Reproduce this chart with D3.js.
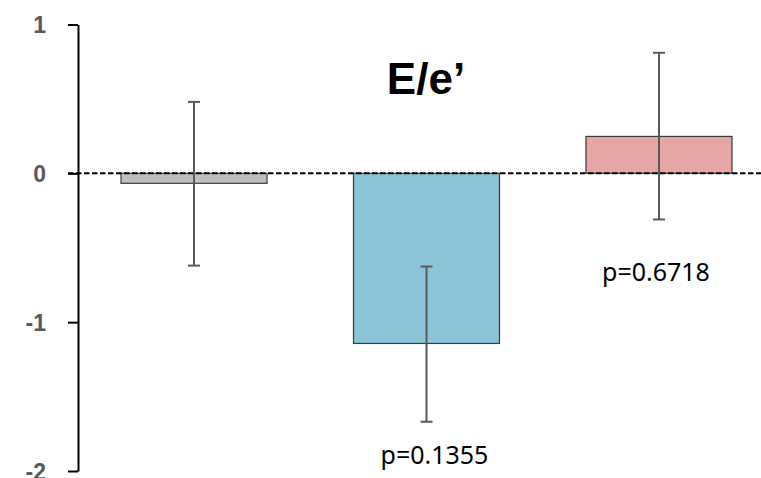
<!DOCTYPE html>
<html>
<meta charset="utf-8">
<head>
<style>
body { margin: 0; background: #fff; }
</style>
<script src="https://d3js.org/d3.v7.min.js"></script>
</head>
<body>
<script>
var groups = ['A', 'B', 'C'];
var means = [-0.067, -1.143, 0.248];
var errLow = [-0.62, -1.669, -0.31];
var errHigh = [0.48, -0.626, 0.81];
var colors = ['#c0c0c0', '#8cc5d9', '#e6a6a5'];
var pLabels = [null, 'p=0.1355', 'p=0.6718'];
var yTicks = [-2, -1, 0, 1];

var width = 761, height = 478;

var svg = d3.select('body').append('svg')
    .attr('width', width)
    .attr('height', height);

var x = d3.scaleBand().domain(groups)
    .range([78, 775])
    .paddingInner(0.372)
    .paddingOuter(0.185);

var y = d3.scaleLinear().domain([-2, 1]).range([471, 24.5]);

// y axis
var yAxis = d3.axisLeft(y)
    .tickValues(yTicks)
    .tickFormat(function(d) { return d < 0 ? '-' + Math.abs(d) : String(d); })
    .tickSize(10).tickPadding(22).tickSizeOuter(0);
var gy = svg.append('g')
    .attr('transform', 'translate(78,0)')
    .call(yAxis);
gy.select('.domain').attr('stroke', '#000').attr('stroke-width', 2);
gy.selectAll('.tick line').attr('stroke', '#000').attr('stroke-width', 2);
gy.selectAll('.tick text')
    .attr('dy', '0.36em')
    .attr('fill', '#595959')
    .style('font-family', '"Liberation Sans", Arial, sans-serif')
    .style('font-weight', 'bold')
    .style('font-size', '23px');

// bars
svg.selectAll('rect.bar')
    .data(groups)
  .enter().append('rect')
    .attr('class', 'bar')
    .attr('x', function(d) { return x(d); })
    .attr('width', x.bandwidth())
    .attr('y', function(d, i) { return Math.min(y(0), y(means[i])); })
    .attr('height', function(d, i) { return Math.abs(y(0) - y(means[i])); })
    .attr('fill', function(d, i) { return colors[i]; })
    .attr('stroke', '#3a3a3a')
    .attr('stroke-width', 1.2);

// zero line
svg.append('line')
    .attr('x1', 68).attr('x2', width)
    .attr('y1', y(0)).attr('y2', y(0))
    .attr('stroke', '#000')
    .attr('stroke-width', 2)
    .attr('stroke-dasharray', '5.5,2.5');

// error bars
var eb = svg.selectAll('g.err')
    .data(groups)
  .enter().append('g')
    .attr('class', 'err')
    .attr('stroke', '#595959')
    .attr('stroke-width', 2);

eb.append('line')
    .attr('x1', function(d) { return x(d) + x.bandwidth() / 2; })
    .attr('x2', function(d) { return x(d) + x.bandwidth() / 2; })
    .attr('y1', function(d, i) { return y(errHigh[i]); })
    .attr('y2', function(d, i) { return y(errLow[i]); });

[errHigh, errLow].forEach(function(arr) {
    eb.append('line')
        .attr('x1', function(d) { return x(d) + x.bandwidth() / 2 - 6; })
        .attr('x2', function(d) { return x(d) + x.bandwidth() / 2 + 6; })
        .attr('y1', function(d, i) { return y(arr[i]); })
        .attr('y2', function(d, i) { return y(arr[i]); });
});

// p values
svg.selectAll('text.p')
    .data(groups.filter(function(d, i) { return pLabels[i]; }))
  .enter().append('text')
    .attr('class', 'p')
    .attr('x', function(d) { return x(d) + x.bandwidth() / 2 + (d === 'B' ? 8 : -3); })
    .attr('y', function(d) { var i = groups.indexOf(d); return y(errLow[i]) + (d === 'B' ? 42 : 62); })
    .attr('text-anchor', 'middle')
    .style('font', '25px "Noto Sans", "Open Sans", sans-serif')
    .attr('fill', '#000')
    .text(function(d) { return pLabels[groups.indexOf(d)]; });

// title
svg.append('text')
    .attr('x', 426)
    .attr('y', 94)
    .attr('text-anchor', 'middle')
    .style('font', 'bold 44px "Liberation Sans", Arial, sans-serif')
    .text('E/e\u2019');
</script>
</body>
</html>
